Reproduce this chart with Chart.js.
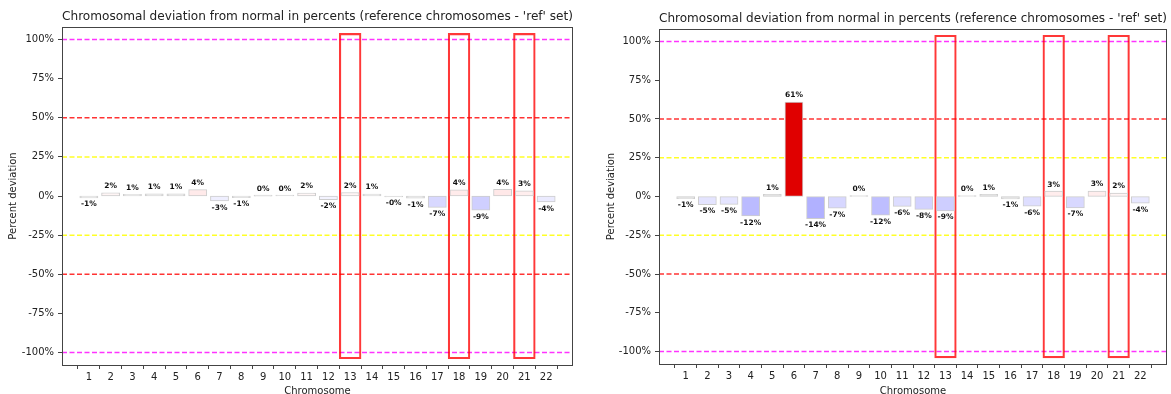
<!DOCTYPE html>
<html>
<head>
<meta charset="utf-8">
<script src="https://cdn.jsdelivr.net/npm/chart.js@4.4.1/dist/chart.umd.min.js"></script>
<style>
  body { margin: 0; background: #fff; overflow: hidden; width: 1171px; height: 394px; }
  .panel { position: absolute; top: 0; }
</style>
</head>
<body>
<div class="panel" style="left:0"><canvas id="left" width="585" height="400"></canvas></div>
<div class="panel" style="left:585px"><canvas id="right" width="586" height="400"></canvas></div>
<script>
var chromosomes = [1, 2, 3, 4, 5, 6, 7, 8, 9, 10, 11, 12, 13, 14, 15, 16, 17, 18, 19, 20, 21, 22];
var leftValues = [-0.9, 1.8, 0.9, 1.1, 1.2, 3.8, -2.9, -0.8, 0.2, 0.3, 1.7, -2.1, 1.9, 1.0, -0.2, -1.1, -7.1, 3.7, -8.8, 4.1, 3.1, -3.6];
var rightValues = [-1.2, -5.0, -4.8, -12.3, 1.2, 60.6, -14.1, -7.2, 0.3, -11.8, -6.2, -8.1, -9.0, 0.4, 1.1, -1.3, -6.0, 3.2, -7.1, 3.3, 2.0, -4.1];
var highlighted = [13, 18, 21];
var highlightRange = [-104, 104];
var yTicks = [-100, -75, -50, -25, 0, 25, 50, 75, 100];
var refLines = [100, 50, 25, -25, -50, -100];
var titleText = "Chromosomal deviation from normal in percents (reference chromosomes - 'ref' set)";

Chart.defaults.font.family = 'DejaVu Sans';
Chart.defaults.color = '#222';

function barColor(v) {
    if (v >= 50) return '#e00000';
    var a = Math.abs(v);
    if (a < 1.5) return '#e2e2e2';
    var k = Math.round(255 - 5.5 * a);
    return v < 0 ? 'rgb(' + k + ',' + k + ',255)' : 'rgb(255,' + k + ',' + k + ')';
}

function lineColor(v) {
    var a = Math.abs(v);
    if (a == 100) return 'rgba(255,0,255,0.8)';
    if (a == 50) return 'rgba(255,0,0,0.8)';
    return 'rgba(255,255,0,0.85)';
}

var refLinePlugin = {
    id: 'refLines',
    beforeDatasetsDraw: function (chart) {
        var ctx = chart.ctx, area = chart.chartArea, y = chart.scales.y;
        ctx.save();
        ctx.lineWidth = 1.5;
        ctx.setLineDash([5, 2.5]);
        refLines.forEach(function (v) {
            var py = y.getPixelForValue(v);
            ctx.strokeStyle = lineColor(v);
            ctx.beginPath();
            ctx.moveTo(area.left, py);
            ctx.lineTo(area.right, py);
            ctx.stroke();
        });
        ctx.restore();
    }
};

var barLabelPlugin = {
    id: 'barLabels',
    afterDatasetsDraw: function (chart) {
        var ctx = chart.ctx;
        var meta = chart.getDatasetMeta(0);
        var vals = chart.data.datasets[0].data;
        ctx.save();
        ctx.font = 'bold 7.5px DejaVu Sans';
        ctx.fillStyle = '#111';
        ctx.textAlign = 'center';
        ctx.textBaseline = 'middle';
        meta.data.forEach(function (bar, i) {
            var v = vals[i].y;
            var ly = v >= 0 ? bar.y - 7 : bar.y + 7;
            ctx.fillText(v.toFixed(0) + '%', bar.x, ly);
        });
        ctx.restore();
    }
};

var framePlugin = {
    id: 'frame',
    afterDraw: function (chart) {
        var ctx = chart.ctx, a = chart.chartArea;
        ctx.save();
        ctx.strokeStyle = '#444';
        ctx.lineWidth = 1;
        ctx.strokeRect(Math.round(a.left) + 0.5, Math.round(a.top) + 0.5,
            Math.round(a.right - a.left) - 1, Math.round(a.bottom - a.top));
        ctx.restore();
    }
};

function makeChart(id, values, cfg) {
    return new Chart(document.getElementById(id), {
        type: 'bar',
        data: {
            datasets: [{
                data: chromosomes.map(function (c, i) { return { x: c, y: values[i] }; }),
                backgroundColor: values.map(barColor),
                borderColor: '#cdcdcd',
                borderWidth: 1,
                borderSkipped: false,
                inflateAmount: 0.7,
                barPercentage: 0.8,
                categoryPercentage: 1,
                grouped: false
            }, {
                data: highlighted.map(function (c) { return { x: c, y: highlightRange }; }),
                backgroundColor: 'rgba(0,0,0,0)',
                borderColor: 'rgba(255,0,0,0.78)',
                borderWidth: 1.5,
                borderSkipped: false,
                barPercentage: 1,
                categoryPercentage: 1,
                grouped: false
            }]
        },
        options: {
            responsive: false,
            animation: false,
            layout: { padding: { left: 0, right: cfg.padRight, top: 0, bottom: 0 } },
            plugins: {
                legend: { display: false },
                tooltip: { enabled: false },
                title: {
                    display: true,
                    text: titleText,
                    fullSize: false,
                    color: '#222',
                    font: { size: 12.2, weight: 'normal' },
                    padding: { top: cfg.titleTop, bottom: 2.4 }
                }
            },
            scales: {
                x: {
                    type: 'linear',
                    min: 0.3,
                    max: 22.7,
                    afterBuildTicks: function (s) { s.ticks = chromosomes.map(function (c) { return { value: c }; }); },
                    afterFit: function (s) { s.height = 400 - cfg.bottom; },
                    grid: { drawOnChartArea: false, drawTicks: true, tickLength: 4, color: '#444' },
                    border: { display: false },
                    ticks: { padding: 2, font: { size: 10 }, color: '#222', maxRotation: 0, autoSkip: false },
                    title: { display: true, text: 'Chromosome', font: { size: 10 }, color: '#222', padding: { top: 0, bottom: 3 } }
                },
                y: {
                    min: -108,
                    max: 108,
                    afterBuildTicks: function (s) { s.ticks = yTicks.map(function (v) { return { value: v }; }); },
                    afterFit: function (s) { s.width = cfg.axisWidth; },
                    grid: { drawOnChartArea: false, drawTicks: true, tickLength: 4, color: '#444' },
                    border: { display: false },
                    ticks: { padding: 4, font: { size: 10 }, color: '#222', callback: function (v) { return v + '%'; } },
                    title: { display: true, text: 'Percent deviation', font: { size: 10 }, color: '#222', padding: { top: cfg.yTitlePad, bottom: 0 } }
                }
            }
        },
        plugins: [refLinePlugin, barLabelPlugin, framePlugin]
    });
}

makeChart('left', leftValues, { padRight: 12, axisWidth: 62, titleTop: 10, bottom: 365, yTitlePad: 7 });
makeChart('right', rightValues, { padRight: 4, axisWidth: 74, titleTop: 12, bottom: 364, yTitlePad: 20 });
</script>
</body>
</html>
